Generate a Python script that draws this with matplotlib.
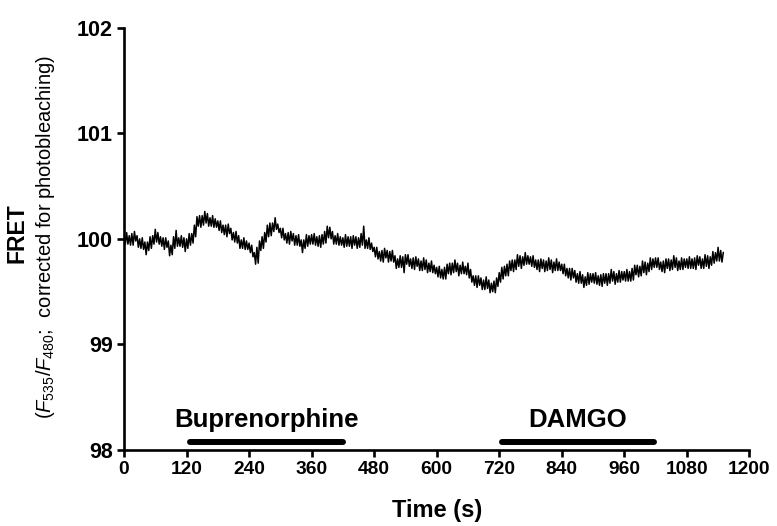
import numpy as np
import matplotlib
matplotlib.use("Agg")
import matplotlib.pyplot as plt

plt.rcParams['font.family'] = ['Liberation Sans', 'DejaVu Sans']
plt.rcParams['mathtext.fontset'] = 'custom'
plt.rcParams['mathtext.rm'] = 'Liberation Sans'
plt.rcParams['mathtext.it'] = 'Liberation Sans:italic'
plt.rcParams['mathtext.bf'] = 'Liberation Sans:bold'

# ---- data ----
sample_interval_s = 2.5
fret = [
    100.04, 99.95, 100.06, 99.95, 100.03, 99.94, 100.05, 99.94,
    100.07, 99.98, 100.03, 99.92, 100.00, 99.91, 100.01, 99.90,
    99.97, 99.85, 99.97, 99.89, 100.02, 99.91, 100.03, 99.95,
    100.09, 99.97, 100.06, 99.95, 100.02, 99.93, 100.01, 99.90,
    100.01, 99.92, 99.98, 99.84, 99.94, 99.85, 100.02, 99.91,
    100.08, 99.93, 100.01, 99.93, 100.03, 99.92, 100.01, 99.88,
    100.00, 99.91, 100.05, 99.94, 100.05, 99.96, 100.13, 100.02,
    100.21, 100.12, 100.22, 100.11, 100.22, 100.13, 100.26, 100.15,
    100.24, 100.12, 100.20, 100.12, 100.22, 100.11, 100.19, 100.11,
    100.17, 100.08, 100.17, 100.06, 100.13, 100.04, 100.13, 100.02,
    100.14, 100.05, 100.10, 99.99, 100.06, 99.97, 100.07, 99.96,
    100.03, 99.91, 99.99, 99.91, 100.01, 99.90, 99.98, 99.90,
    99.96, 99.87, 99.94, 99.83, 99.87, 99.76, 99.92, 99.77,
    99.98, 99.89, 100.02, 99.91, 100.06, 99.97, 100.13, 100.02,
    100.15, 100.03, 100.15, 100.07, 100.20, 100.09, 100.14, 100.06,
    100.10, 100.01, 100.10, 99.99, 100.05, 99.96, 100.06, 99.95,
    100.07, 99.98, 100.05, 99.94, 100.03, 99.94, 100.04, 99.93,
    99.99, 99.87, 99.99, 99.91, 100.04, 99.93, 100.03, 99.95,
    100.04, 99.95, 100.05, 99.94, 100.02, 99.93, 100.03, 99.92,
    100.04, 99.95, 100.07, 99.96, 100.12, 100.01, 100.11, 100.00,
    100.07, 99.95, 100.03, 99.95, 100.05, 99.94, 100.02, 99.94,
    100.01, 99.92, 100.04, 99.93, 100.02, 99.93, 100.02, 99.91,
    100.03, 99.94, 100.02, 99.91, 100.01, 99.92, 100.05, 99.94,
    100.12, 99.91, 99.99, 99.91, 100.01, 99.90, 99.96, 99.88,
    99.92, 99.83, 99.92, 99.81, 99.88, 99.79, 99.89, 99.78,
    99.91, 99.82, 99.89, 99.78, 99.88, 99.79, 99.89, 99.78,
    99.84, 99.72, 99.81, 99.73, 99.84, 99.73, 99.83, 99.68,
    99.85, 99.76, 99.85, 99.74, 99.81, 99.72, 99.82, 99.71,
    99.83, 99.74, 99.81, 99.70, 99.79, 99.70, 99.82, 99.71,
    99.80, 99.68, 99.77, 99.69, 99.79, 99.68, 99.75, 99.67,
    99.73, 99.64, 99.74, 99.63, 99.71, 99.62, 99.73, 99.62,
    99.76, 99.67, 99.77, 99.66, 99.77, 99.68, 99.80, 99.69,
    99.77, 99.65, 99.75, 99.67, 99.78, 99.67, 99.74, 99.66,
    99.77, 99.63, 99.71, 99.59, 99.65, 99.56, 99.65, 99.54,
    99.65, 99.56, 99.63, 99.52, 99.61, 99.52, 99.64, 99.53,
    99.61, 99.49, 99.58, 99.50, 99.60, 99.49, 99.63, 99.55,
    99.68, 99.59, 99.73, 99.62, 99.74, 99.65, 99.76, 99.65,
    99.79, 99.70, 99.80, 99.69, 99.80, 99.71, 99.85, 99.74,
    99.84, 99.72, 99.83, 99.75, 99.87, 99.76, 99.84, 99.76,
    99.83, 99.74, 99.84, 99.73, 99.80, 99.71, 99.80, 99.69,
    99.81, 99.72, 99.80, 99.69, 99.79, 99.70, 99.82, 99.71,
    99.80, 99.68, 99.78, 99.70, 99.81, 99.70, 99.78, 99.70,
    99.76, 99.67, 99.76, 99.65, 99.72, 99.63, 99.72, 99.61,
    99.72, 99.63, 99.70, 99.59, 99.67, 99.58, 99.69, 99.58,
    99.66, 99.54, 99.64, 99.56, 99.68, 99.57, 99.67, 99.59,
    99.67, 99.58, 99.68, 99.57, 99.65, 99.56, 99.66, 99.55,
    99.67, 99.58, 99.67, 99.56, 99.67, 99.58, 99.71, 99.60,
    99.69, 99.57, 99.67, 99.59, 99.70, 99.59, 99.69, 99.61,
    99.69, 99.60, 99.71, 99.60, 99.69, 99.60, 99.72, 99.61,
    99.75, 99.66, 99.75, 99.64, 99.74, 99.65, 99.79, 99.68,
    99.78, 99.66, 99.77, 99.69, 99.82, 99.71, 99.81, 99.73,
    99.82, 99.73, 99.82, 99.71, 99.78, 99.69, 99.79, 99.68,
    99.81, 99.72, 99.81, 99.70, 99.80, 99.71, 99.84, 99.73,
    99.82, 99.70, 99.79, 99.71, 99.82, 99.71, 99.81, 99.73,
    99.81, 99.72, 99.83, 99.72, 99.81, 99.72, 99.82, 99.71,
    99.84, 99.75, 99.83, 99.72, 99.81, 99.72, 99.85, 99.74,
    99.84, 99.72, 99.83, 99.75, 99.88, 99.77, 99.87, 99.79,
    99.92, 99.79, 99.89, 99.78, 99.87,
]
time_s = np.arange(len(fret)) * sample_interval_s

drug_names = ["Buprenorphine", "DAMGO"]
drug_start = [127, 726]
drug_end = [420, 1017]
drug_label_x = [274, 870]

x_ticks = [0, 120, 240, 360, 480, 600, 720, 840, 960, 1080, 1200]
y_ticks = [98, 99, 100, 101, 102]

# ---- figure ----
fig = plt.figure(figsize=(7.77, 5.26), dpi=100)
ax = fig.add_axes([0.1596, 0.1445, 0.8048, 0.8028])

ax.plot(time_s, fret, color='black', lw=1.1)

for name, s, e, lx in zip(drug_names, drug_start, drug_end, drug_label_x):
    ax.plot([s, e], [98.08, 98.08], color='black', lw=4.3, solid_capstyle='round')
    ax.text(lx, 98.28, name, ha='center', va='center', fontsize=18.5, fontweight='bold')

ax.set_xlim(0, 1200)
ax.set_ylim(98, 102)
ax.set_xticks(x_ticks)
ax.set_yticks(y_ticks)
ax.set_xticklabels([str(v) for v in x_ticks], fontsize=13.8, fontweight='bold')
ax.set_yticklabels([str(v) for v in y_ticks], fontsize=15.5, fontweight='bold')

for side in ['top', 'right']:
    ax.spines[side].set_visible(False)
for side in ['left', 'bottom']:
    ax.spines[side].set_linewidth(1.9)
ax.tick_params(axis='both', direction='out', length=5, width=1.9, pad=3)

ax.set_xlabel('Time (s)', fontsize=17, fontweight='bold', labelpad=15)

fig.text(0.0225, 0.557, 'FRET', rotation=90, ha='center', va='center',
         fontsize=16.5, fontweight='bold')
fig.text(0.058, 0.549,
         r'($\mathit{F}_{\mathit{535}}$/$\mathit{F}_{\mathit{480}}$;  corrected for photobleaching)',
         rotation=90, ha='center', va='center', fontsize=14.5)

fig.savefig('out.png', dpi=100)
